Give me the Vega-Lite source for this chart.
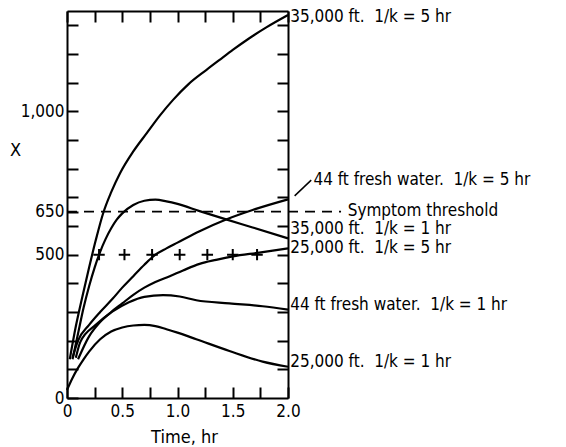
{
  "$schema": "https://vega.github.io/schema/vega-lite/v6.json",
  "width": 221,
  "height": 387,
  "autosize": "none",
  "padding": {"left": 67, "top": 11, "right": 278, "bottom": 49},
  "background": "white",
  "config": {
    "view": {"stroke": null},
    "font": "DejaVu Sans Condensed",
    "axis": {
      "grid": false,
      "domainColor": "black",
      "domainWidth": 2,
      "tickColor": "black",
      "tickWidth": 2,
      "tickSize": -11,
      "labelColor": "black",
      "labelFont": "DejaVu Sans Condensed",
      "labelFontSize": 17,
      "labelFlush": false,
      "labelOverlap": false,
      "titleColor": "black",
      "titleFont": "DejaVu Sans Condensed",
      "titleFontSize": 18,
      "titleFontWeight": "normal"
    }
  },
  "datasets": {
    "curves": [
      {"series": "35k5", "t": 0.025, "v": 135}, {"series": "35k5", "t": 0.08, "v": 250}, {"series": "35k5", "t": 0.14, "v": 355}, {"series": "35k5", "t": 0.2, "v": 455}, {"series": "35k5", "t": 0.26, "v": 550}, {"series": "35k5", "t": 0.33, "v": 648}, {"series": "35k5", "t": 0.4, "v": 718}, {"series": "35k5", "t": 0.48, "v": 784}, {"series": "35k5", "t": 0.6, "v": 860}, {"series": "35k5", "t": 0.72, "v": 923}, {"series": "35k5", "t": 0.84, "v": 985}, {"series": "35k5", "t": 0.96, "v": 1040}, {"series": "35k5", "t": 1.1, "v": 1095}, {"series": "35k5", "t": 1.26, "v": 1144}, {"series": "35k5", "t": 1.4, "v": 1185}, {"series": "35k5", "t": 1.5, "v": 1214}, {"series": "35k5", "t": 1.65, "v": 1255}, {"series": "35k5", "t": 1.8, "v": 1292}, {"series": "35k5", "t": 2.0, "v": 1336},
      {"series": "35k1", "t": 0.05, "v": 135}, {"series": "35k1", "t": 0.1, "v": 225}, {"series": "35k1", "t": 0.15, "v": 315}, {"series": "35k1", "t": 0.2, "v": 390}, {"series": "35k1", "t": 0.25, "v": 455}, {"series": "35k1", "t": 0.3, "v": 510}, {"series": "35k1", "t": 0.35, "v": 555}, {"series": "35k1", "t": 0.4, "v": 592}, {"series": "35k1", "t": 0.45, "v": 622}, {"series": "35k1", "t": 0.5, "v": 644}, {"series": "35k1", "t": 0.6, "v": 673}, {"series": "35k1", "t": 0.7, "v": 688}, {"series": "35k1", "t": 0.8, "v": 692}, {"series": "35k1", "t": 0.9, "v": 686}, {"series": "35k1", "t": 1.0, "v": 677}, {"series": "35k1", "t": 1.2, "v": 652}, {"series": "35k1", "t": 1.44, "v": 623}, {"series": "35k1", "t": 1.68, "v": 595}, {"series": "35k1", "t": 2.0, "v": 557},
      {"series": "44f5", "t": 0.05, "v": 140}, {"series": "44f5", "t": 0.1, "v": 200}, {"series": "44f5", "t": 0.2, "v": 255}, {"series": "44f5", "t": 0.3, "v": 300}, {"series": "44f5", "t": 0.41, "v": 345}, {"series": "44f5", "t": 0.5, "v": 385}, {"series": "44f5", "t": 0.6, "v": 425}, {"series": "44f5", "t": 0.7, "v": 465}, {"series": "44f5", "t": 0.8, "v": 500}, {"series": "44f5", "t": 0.9, "v": 522}, {"series": "44f5", "t": 1.0, "v": 542}, {"series": "44f5", "t": 1.2, "v": 582}, {"series": "44f5", "t": 1.44, "v": 623}, {"series": "44f5", "t": 1.68, "v": 656}, {"series": "44f5", "t": 2.0, "v": 693},
      {"series": "25k5", "t": 0.1, "v": 135}, {"series": "25k5", "t": 0.2, "v": 215}, {"series": "25k5", "t": 0.3, "v": 265}, {"series": "25k5", "t": 0.4, "v": 300}, {"series": "25k5", "t": 0.5, "v": 330}, {"series": "25k5", "t": 0.6, "v": 360}, {"series": "25k5", "t": 0.7, "v": 385}, {"series": "25k5", "t": 0.8, "v": 405}, {"series": "25k5", "t": 0.93, "v": 425}, {"series": "25k5", "t": 1.05, "v": 445}, {"series": "25k5", "t": 1.2, "v": 468}, {"series": "25k5", "t": 1.35, "v": 482}, {"series": "25k5", "t": 1.5, "v": 494}, {"series": "25k5", "t": 1.74, "v": 507}, {"series": "25k5", "t": 2.0, "v": 522},
      {"series": "44f1", "t": 0.08, "v": 140}, {"series": "44f1", "t": 0.12, "v": 195}, {"series": "44f1", "t": 0.26, "v": 255}, {"series": "44f1", "t": 0.41, "v": 301}, {"series": "44f1", "t": 0.56, "v": 334}, {"series": "44f1", "t": 0.7, "v": 353}, {"series": "44f1", "t": 0.87, "v": 359}, {"series": "44f1", "t": 1.02, "v": 354}, {"series": "44f1", "t": 1.17, "v": 341}, {"series": "44f1", "t": 1.47, "v": 330}, {"series": "44f1", "t": 1.77, "v": 320}, {"series": "44f1", "t": 2.0, "v": 308},
      {"series": "25k1", "t": 0.0, "v": 28}, {"series": "25k1", "t": 0.05, "v": 70}, {"series": "25k1", "t": 0.1, "v": 105}, {"series": "25k1", "t": 0.15, "v": 135}, {"series": "25k1", "t": 0.2, "v": 162}, {"series": "25k1", "t": 0.3, "v": 205}, {"series": "25k1", "t": 0.4, "v": 232}, {"series": "25k1", "t": 0.5, "v": 246}, {"series": "25k1", "t": 0.6, "v": 253}, {"series": "25k1", "t": 0.7, "v": 255}, {"series": "25k1", "t": 0.8, "v": 251}, {"series": "25k1", "t": 0.9, "v": 240}, {"series": "25k1", "t": 1.0, "v": 228}, {"series": "25k1", "t": 1.17, "v": 205}, {"series": "25k1", "t": 1.47, "v": 164}, {"series": "25k1", "t": 1.77, "v": 127}, {"series": "25k1", "t": 2.0, "v": 109}
    ],
    "pluses": [
      {"t": 0.29, "v": 500}, {"t": 0.52, "v": 500}, {"t": 0.77, "v": 500}, {"t": 1.02, "v": 500}, {"t": 1.27, "v": 500}, {"t": 1.5, "v": 500}, {"t": 1.72, "v": 500}
    ],
    "threshold": [{"t": 0, "t2": 2.48, "v": 650}],
    "leader": [{"t": 2.06, "t2": 2.21, "v": 705, "v2": 760}],
    "labels": [
      {"label": "35,000 ft.\u00a0\u00a01/k = 5 hr", "t": 2.02, "v": 1329},
      {"label": "44 ft fresh water.\u00a0\u00a01/k = 5 hr", "t": 2.23, "v": 760},
      {"label": "Symptom threshold", "t": 2.54, "v": 654},
      {"label": "35,000 ft.\u00a0\u00a01/k = 1 hr", "t": 2.02, "v": 588},
      {"label": "25,000 ft.\u00a0\u00a01/k = 5 hr", "t": 2.02, "v": 522},
      {"label": "44 ft fresh water.\u00a0\u00a01/k = 1 hr", "t": 2.02, "v": 326},
      {"label": "25,000 ft.\u00a0\u00a01/k = 1 hr", "t": 2.02, "v": 127}
    ]
  },
  "layer": [
    {
      "data": {"name": "curves"},
      "mark": {"type": "line", "interpolate": "monotone", "color": "black", "strokeWidth": 2.2},
      "encoding": {
        "x": {
          "field": "t", "type": "quantitative",
          "scale": {"domain": [0, 2], "nice": false, "zero": false},
          "axis": {
            "orient": "bottom",
            "values": [0, 0.25, 0.5, 0.75, 1, 1.25, 1.5, 1.75, 2],
            "labelExpr": "datum.value == 0 ? '0' : (datum.value * 2 == round(datum.value * 2) ? format(datum.value, '.1f') : '')",
            "labelPadding": 16,
            "title": "Time, hr",
            "titleX": 117,
            "titleY": 39,
            "titleAlign": "center",
            "titleBaseline": "middle"
          }
        },
        "y": {
          "field": "v", "type": "quantitative",
          "scale": {"domain": [0, 1350], "nice": false},
          "axis": {
            "orient": "left",
            "values": [0, 100, 200, 300, 400, 500, 600, 650, 700, 800, 900, 1000, 1100, 1200, 1300],
            "labelExpr": "datum.value == 0 || datum.value == 500 || datum.value == 650 || datum.value == 1000 ? format(datum.value, ',') : ''",
            "labelPadding": 14,
            "title": "X",
            "titleAngle": 0,
            "titleX": -52,
            "titleY": 139,
            "titleAlign": "center",
            "titleBaseline": "middle"
          }
        },
        "detail": {"field": "series", "type": "nominal"}
      }
    },
    {
      "data": {"name": "threshold"},
      "mark": {"type": "rule", "color": "black", "strokeWidth": 1.6, "strokeDash": [10, 7]},
      "encoding": {
        "x": {"field": "t", "type": "quantitative", "axis": null},
        "x2": {"field": "t2"},
        "y": {"field": "v", "type": "quantitative", "axis": null}
      }
    },
    {
      "data": {"name": "leader"},
      "mark": {"type": "rule", "color": "black", "strokeWidth": 1.5},
      "encoding": {
        "x": {"field": "t", "type": "quantitative", "axis": null},
        "x2": {"field": "t2"},
        "y": {"field": "v", "type": "quantitative", "axis": null},
        "y2": {"field": "v2"}
      }
    },
    {
      "data": {"name": "pluses"},
      "mark": {"type": "point", "shape": "M-1,0H1M0,-1V1", "size": 130, "filled": false, "stroke": "black", "strokeWidth": 2, "opacity": 1},
      "encoding": {
        "x": {"field": "t", "type": "quantitative", "axis": null},
        "y": {"field": "v", "type": "quantitative", "axis": null}
      }
    },
    {
      "data": {"name": "labels"},
      "mark": {"type": "text", "align": "left", "baseline": "middle", "font": "DejaVu Sans Condensed", "fontSize": 17, "color": "black"},
      "encoding": {
        "x": {"field": "t", "type": "quantitative", "axis": null},
        "y": {"field": "v", "type": "quantitative", "axis": null},
        "text": {"field": "label"}
      }
    },
    {
      "data": {"name": "pluses"},
      "mark": {"type": "point", "opacity": 0},
      "encoding": {
        "x": {
          "field": "t", "type": "quantitative",
          "axis": {"orient": "top", "values": [0, 0.25, 0.5, 0.75, 1, 1.25, 1.5, 1.75, 2], "labels": false, "title": null}
        },
        "y": {
          "field": "v", "type": "quantitative",
          "axis": {"orient": "right", "values": [100, 200, 300, 400, 500, 600, 700, 800, 900, 1000, 1100, 1200, 1300], "labels": false, "title": null}
        }
      }
    }
  ],
  "resolve": {"axis": {"x": "independent", "y": "independent"}}
}
